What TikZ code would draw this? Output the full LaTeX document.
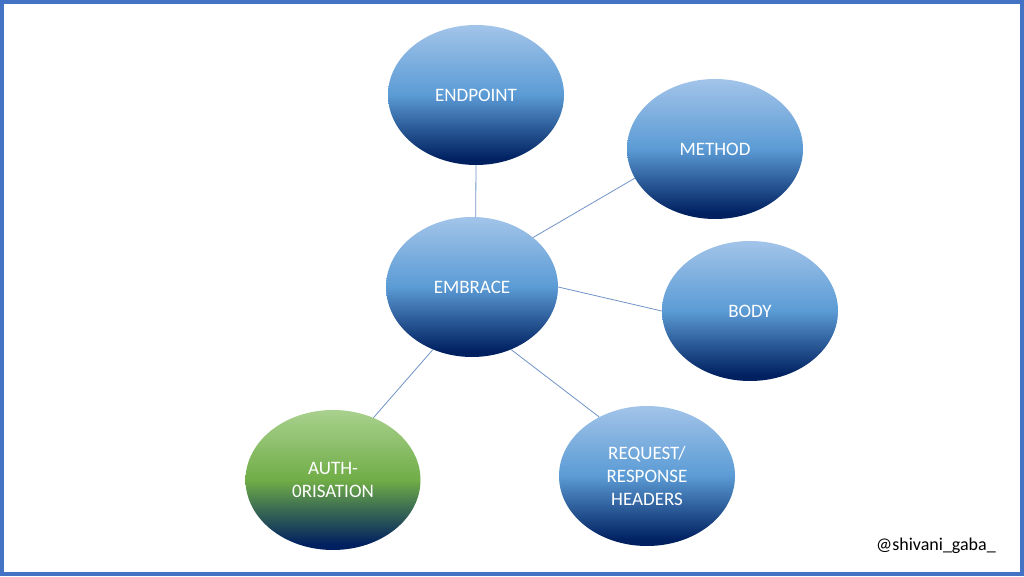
\documentclass[tikz,border=0pt]{standalone}
\usepackage{fontspec}
\setmainfont{Carlito}
\usetikzlibrary{shapes.geometric}
\definecolor{frameblue}{HTML}{4472C4}
\definecolor{linkblue}{HTML}{7193C8}
\definecolor{bdk}{HTML}{002060}
\definecolor{bmd}{HTML}{5B9BD5}
\definecolor{blt}{HTML}{A2C4E9}
\definecolor{gmd}{HTML}{70AD47}
\definecolor{glt}{HTML}{A9D18E}
\pgfdeclareverticalshading{bluegrad}{100bp}{color(0bp)=(bdk); color(27bp)=(bdk); color(40bp)=(bmd!55!bdk); color(50bp)=(bmd); color(75bp)=(blt); color(100bp)=(blt)}
\pgfdeclareverticalshading{greengrad}{100bp}{color(0bp)=(bdk); color(27bp)=(bdk); color(40bp)=(gmd!55!bdk); color(50bp)=(gmd); color(75bp)=(glt); color(100bp)=(glt)}
\tikzset{
  bubble/.style={ellipse, minimum width=176pt, minimum height=140pt, inner sep=0pt,
    shading=bluegrad, text=white, font=\fontsize{19}{23}\selectfont, align=center},
  greenbubble/.style={bubble, shading=greengrad},
  link/.style={draw=linkblue, line width=0.8pt}
}
\begin{document}
\begin{tikzpicture}[x=1pt,y=1pt]
\useasboundingbox (0,0) rectangle (1024,576);
\fill[white] (0,0) rectangle (1024,576);
\draw[frameblue, line width=4pt] (2,2) rectangle (1022,574);
\node[bubble] (endpoint) at (476,481) {ENDPOINT};
\node[bubble] (method) at (715,427) {METHOD};
\node[bubble, minimum width=172pt] (embrace) at (472,289) {EMBRACE};
\node[bubble] (body) at (750,265) {BODY};
\node[bubble] (req) at (647,100) {REQUEST/\\RESPONSE\\HEADERS};
\node[greenbubble, minimum width=175pt] (auth) at (333,96) {AUTH-\\0RISATION};
\draw[link] (endpoint.south) -- (embrace.87);
\draw[link] (embrace.39) -- (method.200);
\draw[link] (embrace.east) -- (body.west);
\draw[link] (embrace.-58) -- (req.129);
\draw[link] (embrace.-122) -- (auth.57);
\node[font=\fontsize{18}{20}\selectfont] (credit) at (936,30) {@shivani\_gaba\_};
\end{tikzpicture}
\end{document}
